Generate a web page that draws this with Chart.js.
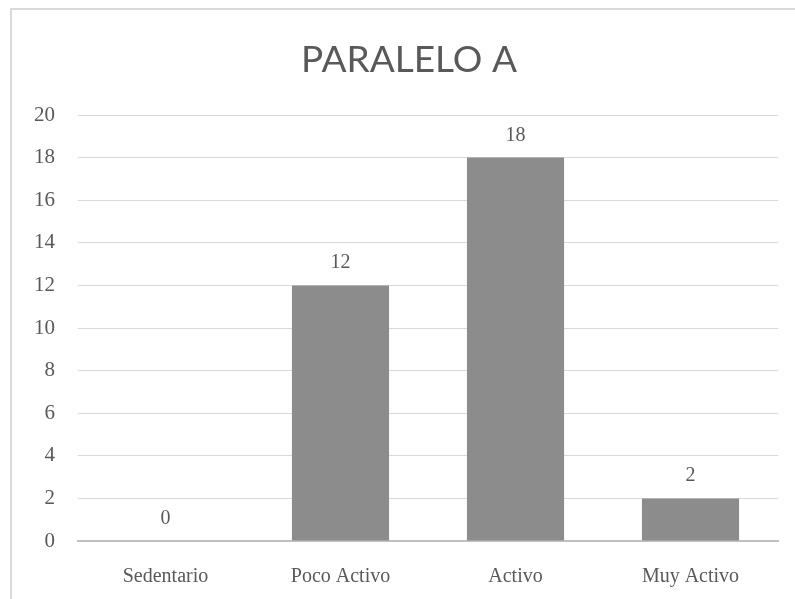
<!DOCTYPE html>
<html>
<head>
<meta charset="utf-8">
<script src="https://cdn.jsdelivr.net/npm/chart.js@4/dist/chart.umd.min.js"></script>
<style>
html,body{margin:0;padding:0;background:#fff;}
#wrap{position:relative;width:795px;height:599px;overflow:hidden;}
#frame{position:absolute;left:10px;top:8px;width:900px;height:700px;border-left:2px solid #d9d9d9;border-top:2px solid #d9d9d9;box-sizing:border-box;}
canvas{position:absolute;left:0;top:0;}
</style>
</head>
<body>
<div id="wrap">
<div id="frame"></div>
<canvas id="c" width="795" height="599"></canvas>
</div>
<script>
const titleText = "PARALELO A";
const categories = ["Sedentario", "Poco Activo", "Activo", "Muy Activo"];
const values = [0, 12, 18, 2];
const yMin = 0, yMax = 20, yStep = 2;

const textColor = "#595959";
const serif = "'Liberation Serif', 'DejaVu Serif', serif";
const titleFont = "400 37px Lato, 'Open Sans', sans-serif";

const valueLabels = {
  id: "valueLabels",
  afterDatasetsDraw(chart) {
    const ctx = chart.ctx;
    const meta = chart.getDatasetMeta(0);
    ctx.save();
    ctx.fillStyle = textColor;
    ctx.font = "20px " + serif;
    ctx.textAlign = "center";
    ctx.textBaseline = "alphabetic";
    meta.data.forEach((bar, i) => {
      ctx.fillText(String(values[i]), bar.x, bar.y - 17);
    });
    ctx.restore();
  }
};

const shiftedTitle = {
  id: "shiftedTitle",
  afterDraw(chart) {
    const ctx = chart.ctx;
    ctx.save();
    ctx.fillStyle = textColor;
    ctx.font = titleFont;
    ctx.textAlign = "center";
    ctx.textBaseline = "alphabetic";
    ctx.fillText(titleText, 409, 72);
    ctx.restore();
  }
};

new Chart(document.getElementById("c"), {
  type: "bar",
  data: {
    labels: categories,
    datasets: [{
      data: values,
      backgroundColor: "#8c8c8c",
      borderWidth: 0,
      barPercentage: 0.555,
      categoryPercentage: 1.0
    }]
  },
  options: {
    responsive: false,
    animation: false,
    layout: { padding: { left: 0, right: 17, top: 0, bottom: 0 } },
    plugins: {
      legend: { display: false },
      tooltip: { enabled: false },
      title: {
        display: true,
        text: titleText,
        color: "rgba(0,0,0,0)",
        font: { family: "Lato, 'Open Sans', sans-serif", size: 37, weight: 300, lineHeight: 1.2 },
        padding: { top: 35, bottom: 35.6 }
      }
    },
    scales: {
      x: {
        grid: { display: false, drawTicks: false },
        border: { display: true, color: "#c0c0c0", width: 2 },
        ticks: { color: textColor, font: { family: serif, size: 20 }, padding: 24, maxRotation: 0 },
        afterFit(scale) { scale.height = 58; }
      },
      y: {
        min: yMin, max: yMax,
        grid: { color: "#d9d9d9", lineWidth: 1, drawTicks: false },
        border: { display: false },
        ticks: { stepSize: yStep, color: textColor, font: { family: serif, size: 21 }, padding: 23 },
        afterFit(scale) { scale.width = 78; }
      }
    }
  },
  plugins: [valueLabels, shiftedTitle]
});
</script>
</body>
</html>
